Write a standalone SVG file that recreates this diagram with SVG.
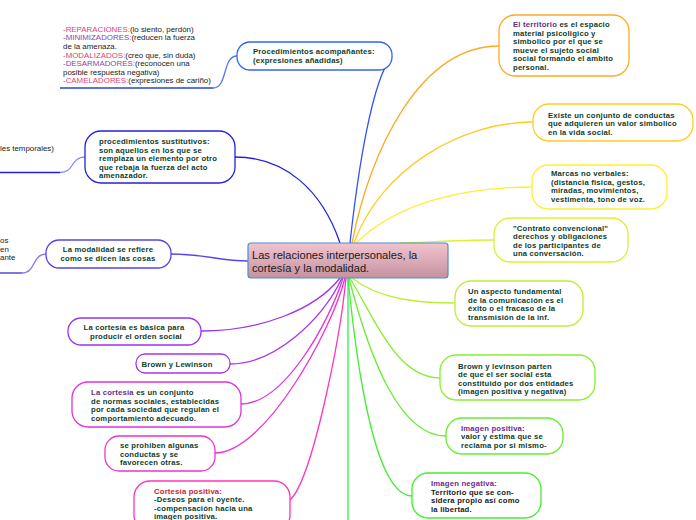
<svg xmlns="http://www.w3.org/2000/svg" width="696" height="520" viewBox="0 0 696 520">
<style>
.n{fill:#fff;stroke-width:1.3}
.t{font-family:"Liberation Sans",Arial,sans-serif;font-size:7.7px;font-weight:bold;fill:#0e3d2c;letter-spacing:0.2px}
.nt{font-family:"Liberation Sans",Arial,sans-serif;font-size:7.9px;fill:#222}
.c{fill:none;stroke-width:1.3}
.pu{fill:#6a2c8c}
.pk{fill:#e0407a}
.vi{fill:#8a46a8}
</style>
<defs>
<linearGradient id="g" x1="0" y1="0" x2="0" y2="1">
<stop offset="0" stop-color="#f2c4d0"/>
<stop offset="1" stop-color="#c4929e"/>
</linearGradient>
</defs>
<g id="connectors">
<path class="c" stroke="#3355ee" d="M350,243 C358,170 372,80 392,56"/>
<path class="c" stroke="#2222dd" d="M235,157 C285,157 322,190 340,243"/>
<path class="c" stroke="#5544ee" d="M171,254 C205,254 220,261 248,261"/>
<path class="c" stroke="#9933ee" d="M201,331 C260,331 315,310 340,278"/>
<path class="c" stroke="#aa33ee" d="M230,364 C275,364 322,320 342,278"/>
<path class="c" stroke="#dd33dd" d="M241,404 C285,404 330,320 343,278"/>
<path class="c" stroke="#ee33cc" d="M215,453 C265,453 332,330 345,278"/>
<path class="c" stroke="#ff33bb" d="M290,500 C312,480 340,340 346,278"/>
<path class="c" stroke="#ffaa22" d="M352,243 C370,150 420,46 499,46"/>
<path class="c" stroke="#ffcc22" d="M354,243 C380,170 460,122 533,122"/>
<path class="c" stroke="#ffee33" d="M356,243 C400,200 470,187 532,187"/>
<path class="c" stroke="#ddf033" d="M400,243 C430,242 460,240 494,240"/>
<path class="c" stroke="#bbf033" d="M352,278 C380,300 420,303 455,303"/>
<path class="c" stroke="#88ee33" d="M350,278 C380,330 400,378 440,378"/>
<path class="c" stroke="#66ee33" d="M349,278 C370,360 400,436 446,436"/>
<path class="c" stroke="#44ee33" d="M348,278 C360,400 380,496 412,496"/>
<path class="c" stroke="#33ee44" d="M348,278 L348,520"/>
<path class="c" stroke="#2244dd" stroke-width="1.6" d="M60,88 L213,88"/>
<path class="c" stroke="#5577ee" d="M213,88 C228,88 222,56 237,56"/>
<path class="c" stroke="#2222cc" stroke-width="1.6" d="M0,172.5 L60,172.5"/>
<path class="c" stroke="#8888ff" d="M60,172.5 C75,172.5 70,157 85,157"/>
<path class="c" stroke="#3333cc" stroke-width="1.6" d="M0,273 L22,273"/>
<path class="c" stroke="#8877ee" d="M22,273 C36,273 32,254 46,254"/>
</g>
<g id="notes">
<text class="nt"><tspan x="63" y="31.5"><tspan class="pk">-REPARACIONES:</tspan>(lo siento, perdón)</tspan><tspan x="63" y="40"><tspan class="vi">-MINIMIZADORES:</tspan>(reducen la fuerza</tspan><tspan x="63" y="48.5">de la amenaza.</tspan><tspan x="63" y="57.5"><tspan class="pk">-MODALIZADOS:</tspan>(creo que, sin duda)</tspan><tspan x="63" y="66"><tspan class="vi">-DESARMADORES:</tspan>(reconocen una</tspan><tspan x="63" y="74.5">posible respuesta negativa)</tspan><tspan x="63" y="83"><tspan class="pk">-CAMELADORES:</tspan>(expresiones de cariño)</tspan></text>
</g>
<g id="left-fragments">
<text class="nt"><tspan x="0" y="150.5">les temporales)</tspan></text>
<text class="nt"><tspan x="0" y="243">os</tspan><tspan x="0" y="251.5">en</tspan><tspan x="0" y="260">ante</tspan></text>
</g>
<g id="center">
<rect x="248" y="243" width="200" height="35" rx="3" fill="url(#g)" stroke="#4a90d0" stroke-width="1.2"/>
<text font-family="'Liberation Sans',Arial,sans-serif" font-size="11.1" fill="#1a1a1a"><tspan x="252" y="259">Las relaciones interpersonales, la</tspan><tspan x="252" y="272">cortesía y la modalidad.</tspan></text>
</g>
<g id="acompanantes">
<rect class="n" x="237" y="42" width="155" height="28" rx="13" stroke="#3366ee"/>
<text class="t"><tspan x="253" y="54">Procedimientos acompañantes:</tspan><tspan x="253" y="63">(expresiones añadidas)</tspan></text>
</g>
<g id="sustitutivos">
<rect class="n" x="85" y="131" width="150" height="52" rx="16" stroke="#2222dd"/>
<text class="t"><tspan x="99" y="144">procedimientos sustitutivos:</tspan><tspan x="99" y="152.5">son aquellos en los que se</tspan><tspan x="99" y="161">remplaza un elemento por otro</tspan><tspan x="99" y="169.5">que rebaja la fuerza del acto</tspan><tspan x="99" y="178">amenazador.</tspan></text>
</g>
<g id="modalidad">
<rect class="n" x="46" y="240" width="125" height="28" rx="13" stroke="#5544ee"/>
<text class="t" text-anchor="middle"><tspan x="108" y="252">La modalidad se refiere</tspan><tspan x="108" y="261">como se dicen las cosas</tspan></text>
</g>
<g id="cortesia-basica">
<rect class="n" x="68" y="318" width="133" height="27" rx="13" stroke="#9933ee"/>
<text class="t" text-anchor="middle"><tspan x="134" y="330">La cortesía es básica para</tspan><tspan x="136" y="339">producir el orden social</tspan></text>
</g>
<g id="brown-lewinson">
<rect class="n" x="136" y="354" width="94" height="19" rx="9" stroke="#aa33ee"/>
<text class="t" text-anchor="middle" x="177" y="366.5">Brown y Lewinson</text>
</g>
<g id="cortesia-conjunto">
<rect class="n" x="72" y="382" width="169" height="45" rx="16" stroke="#dd33dd"/>
<text class="t"><tspan x="91" y="395"><tspan class="pu">La cortesía</tspan> es un conjunto</tspan><tspan x="91" y="403.5">de normas sociales, establecidas</tspan><tspan x="91" y="412">por cada sociedad que regulan el</tspan><tspan x="91" y="420.5">comportamiento adecuado.</tspan></text>
</g>
<g id="se-prohiben">
<rect class="n" x="105" y="436" width="110" height="35" rx="14" stroke="#ee33cc"/>
<text class="t"><tspan x="120" y="448">se prohiben algunas</tspan><tspan x="120" y="456.5">conductas y se</tspan><tspan x="120" y="465">favorecen otras.</tspan></text>
</g>
<g id="cortesia-positiva">
<rect class="n" x="134" y="481" width="156" height="50" rx="16" stroke="#ff33bb"/>
<text class="t"><tspan x="154" y="493.5" fill="#cc2233">Cortesía positiva:</tspan><tspan x="154" y="502">-Deseos para el oyente.</tspan><tspan x="154" y="510.5">-compensación hacia una</tspan><tspan x="154" y="519">imagen positiva.</tspan></text>
</g>
<g id="territorio">
<rect class="n" x="499" y="15" width="130" height="61" rx="16" stroke="#ffaa22"/>
<text class="t"><tspan x="513" y="27"><tspan class="pu">El territorio</tspan> es el espacio</tspan><tspan x="513" y="35.5">material psicoligico y</tspan><tspan x="513" y="44">simbolico por el que se</tspan><tspan x="513" y="52.5">mueve el sujeto social</tspan><tspan x="513" y="61">social formando el ambito</tspan><tspan x="513" y="69.5">personal.</tspan></text>
</g>
<g id="existe">
<rect class="n" x="533" y="104" width="160" height="37" rx="16" stroke="#ffcc22"/>
<text class="t"><tspan x="548" y="117.5">Existe un conjunto de conductas</tspan><tspan x="548" y="126">que adquieren un valor simbolico</tspan><tspan x="548" y="134.5">en la vida social.</tspan></text>
</g>
<g id="marcas">
<rect class="n" x="532" y="165" width="135" height="44" rx="16" stroke="#ffee33"/>
<text class="t"><tspan x="551" y="176">Marcas no verbales:</tspan><tspan x="551" y="184.5">(distancia fisica, gestos,</tspan><tspan x="551" y="193">miradas, movimientos,</tspan><tspan x="551" y="201.5">vestimenta, tono de voz.</tspan></text>
</g>
<g id="contrato">
<rect class="n" x="494" y="218" width="134" height="44" rx="16" stroke="#ddf033"/>
<text class="t"><tspan x="513" y="230.5">"Contrato convencional"</tspan><tspan x="513" y="239">derechos y obligaciones</tspan><tspan x="513" y="247.5">de los participantes de</tspan><tspan x="513" y="256">una conversación.</tspan></text>
</g>
<g id="aspecto">
<rect class="n" x="455" y="281" width="128" height="45" rx="16" stroke="#bbf033"/>
<text class="t"><tspan x="468" y="294">Un aspecto fundamental</tspan><tspan x="468" y="302.5">de la comunicación es el</tspan><tspan x="468" y="311">éxito o el fracaso de la</tspan><tspan x="468" y="319.5">transmisión de la inf.</tspan></text>
</g>
<g id="brown-parten">
<rect class="n" x="440" y="355" width="155" height="45" rx="16" stroke="#88ee33"/>
<text class="t"><tspan x="458" y="368.5">Brown y levinson parten</tspan><tspan x="458" y="377">de que el ser social esta</tspan><tspan x="458" y="385.5">constituido por dos entidades</tspan><tspan x="458" y="394">(imagen positiva y negativa)</tspan></text>
</g>
<g id="imagen-positiva">
<rect class="n" x="446" y="418" width="117" height="36" rx="16" stroke="#66ee33"/>
<text class="t"><tspan x="461" y="430.5" class="pu">Imagen positiva:</tspan><tspan x="461" y="439">valor y estima que se</tspan><tspan x="461" y="447.5">reclama por si mismo-</tspan></text>
</g>
<g id="imagen-negativa">
<rect class="n" x="412" y="473" width="129" height="45" rx="16" stroke="#44ee33"/>
<text class="t"><tspan x="431" y="486" class="pu">Imagen negativa:</tspan><tspan x="431" y="494.5" fill="#1a1a1a">Territorio que se con-</tspan><tspan x="431" y="503" fill="#1a1a1a">sidera propio así como</tspan><tspan x="431" y="511.5" fill="#1a1a1a">la libertad.</tspan></text>
</g>
</svg>
